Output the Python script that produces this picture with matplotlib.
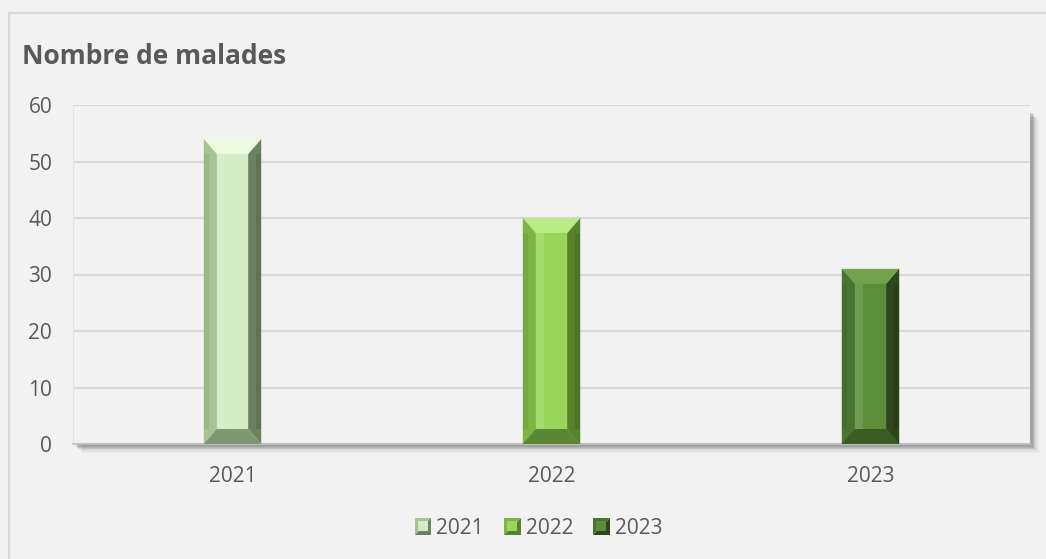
import numpy as np
import matplotlib
matplotlib.use("Agg")
import matplotlib.pyplot as plt
import matplotlib.patches as mpatches
from matplotlib.patches import Polygon, Rectangle
from matplotlib.legend_handler import HandlerBase
from matplotlib.transforms import ScaledTranslation

# ── Data ──────────────────────────────────────────────────────────────────────
years  = ["2021", "2022", "2023"]
values = [54, 40, 31]
y_ticks = [0, 10, 20, 30, 40, 50, 60]
title = "Nombre de malades"

# ── Style ─────────────────────────────────────────────────────────────────────
BG    = "#f2f2f2"
GRID  = "#d9d9d9"
TEXT  = "#595959"
FONT  = "Open Sans"

# face, left side, right side, top bevel, bottom bevel
SHADES = [
    ("#d3ecc3", "#a7c393", "#6b8160", "#ecfae2", "#7d9870"),
    ("#98d65a", "#7db446", "#56822c", "#b9ea86", "#5a8733"),
    ("#5b8d3a", "#4a7530", "#2d461c", "#72a24e", "#3a5c25"),
]

BAR_W = 0.18
BEVEL_X_PX = 13
BEVEL_Y_PX = 15

W, H = 1046, 559
fig = plt.figure(figsize=(W / 100, H / 100), dpi=100, facecolor=BG)

ax_l, ax_r, ax_t, ax_b = 73, 1030, 105, 444
ax = fig.add_axes([ax_l / W, 1 - ax_b / H, (ax_r - ax_l) / W, (ax_b - ax_t) / H])
ax.set_facecolor(BG)
ax.set_zorder(2)

# outer chart border (top and left visible)
fig.add_artist(Rectangle((8.5 / W, -0.02), 1.1, (H - 13) / H + 0.02,
                         transform=fig.transFigure, facecolor="none",
                         edgecolor="#d9d9d9", lw=1.6, zorder=0))

# soft shadow of the plot area (right and bottom)
for i, a in enumerate([0.05, 0.07, 0.09, 0.12, 0.16, 0.2]):
    off = 9 - i * 1.3
    shift = ScaledTranslation(off / 100, -off / 100, fig.dpi_scale_trans)
    fig.add_artist(Rectangle((ax_l / W, 1 - ax_b / H), (ax_r - ax_l) / W, (ax_b - ax_t) / H - 0.01,
                             transform=fig.transFigure + shift, facecolor="#606060",
                             edgecolor="none", alpha=a, zorder=0.1))

x = np.arange(len(years))
bars = ax.bar(x, values, width=BAR_W, color=[s[0] for s in SHADES], zorder=3,
              edgecolor="none")

ax.set_xlim(-0.5, len(years) - 0.5)
ax.set_ylim(0, 60)

# bevel size in data units
px_x = (len(years)) / (ax_r - ax_l)
px_y = 60 / (ax_b - ax_t)
bx, by = BEVEL_X_PX * px_x, BEVEL_Y_PX * px_y

for bar, sh in zip(bars, SHADES):
    x0 = bar.get_x()
    x1 = x0 + bar.get_width()
    h = bar.get_height()
    face, left, right, top, bottom = sh
    polys = [
        ([(x0, 0), (x0 + bx, by), (x0 + bx, h - by), (x0, h)], left),
        ([(x1, 0), (x1 - bx, by), (x1 - bx, h - by), (x1, h)], right),
        ([(x0, h), (x0 + bx, h - by), (x1 - bx, h - by), (x1, h)], top),
        ([(x0, 0), (x0 + bx, by), (x1 - bx, by), (x1, 0)], bottom),
    ]
    for pts, c in polys:
        ax.add_patch(Polygon(pts, closed=True, facecolor=c, edgecolor="none", zorder=4))
    # soft gradient strips on the sides and face
    ax.add_patch(Rectangle((x0, by), bx * 0.4, h - 2 * by, facecolor="black",
                           alpha=0.06, edgecolor="none", zorder=4))
    ax.add_patch(Rectangle((x1 - bx * 0.4, by), bx * 0.4, h - 2 * by, facecolor="black",
                           alpha=0.1, edgecolor="none", zorder=4))
    ax.add_patch(Rectangle((x0 + bx, by), bx * 0.6, h - 2 * by, facecolor="white",
                           alpha=0.12, edgecolor="none", zorder=4))

ax.set_yticks(y_ticks)
ax.yaxis.grid(True, color=GRID, lw=1.6, zorder=1)
ax.set_axisbelow(True)
ax.set_xticks(x)
ax.set_xticklabels(years)
ax.tick_params(axis="both", length=0, labelcolor=TEXT, labelsize=15)
ax.tick_params(axis="x", pad=16)
ax.tick_params(axis="y", pad=15)
for lab in ax.get_xticklabels() + ax.get_yticklabels():
    lab.set_fontfamily(FONT)

for side in ["top", "right"]:
    ax.spines[side].set_visible(False)
ax.spines["left"].set_color("#e3e3e3")
ax.spines["left"].set_linewidth(0.8)
ax.spines["bottom"].set_color("#bfbfbf")
ax.spines["bottom"].set_linewidth(1.2)

fig.text(22 / W, 1 - 57 / H, title, fontsize=19, fontweight="bold", color=TEXT,
         family=FONT, ha="left", va="center")


# ── Legend with bevelled squares ─────────────────────────────────────────────
class BevelSquare(HandlerBase):
    def __init__(self, shade):
        super().__init__()
        self.shade = shade

    def create_artists(self, legend, orig_handle, xdescent, ydescent, width, height,
                       fontsize, trans):
        s = min(width, height)
        x0 = -xdescent + (width - s)
        y0 = -ydescent
        face, left, right, top, bottom = self.shade
        a = Polygon([(x0, y0), (x0, y0 + s), (x0 + s, y0 + s)], closed=True,
                    facecolor=left, edgecolor="none", transform=trans)
        b = Polygon([(x0, y0), (x0 + s, y0), (x0 + s, y0 + s)], closed=True,
                    facecolor=right, edgecolor="none", transform=trans)
        c = Rectangle((x0 + s * 0.2, y0 + s * 0.2), s * 0.6, s * 0.6,
                      facecolor=face, edgecolor="none", transform=trans)
        return [a, b, c]


handles = [mpatches.Patch(label=y) for y in years]
ax.legend(handles=handles, loc="center", bbox_to_anchor=(538 / W, 1 - 528 / H),
          bbox_transform=fig.transFigure, ncol=3, frameon=False,
          handler_map={h: BevelSquare(sh) for h, sh in zip(handles, SHADES)},
          prop={"family": FONT, "size": 15}, labelcolor=TEXT,
          handlelength=0.85, handleheight=0.85, handletextpad=0.25, columnspacing=0.9)

fig.savefig("out.png", dpi=100, facecolor=BG)
